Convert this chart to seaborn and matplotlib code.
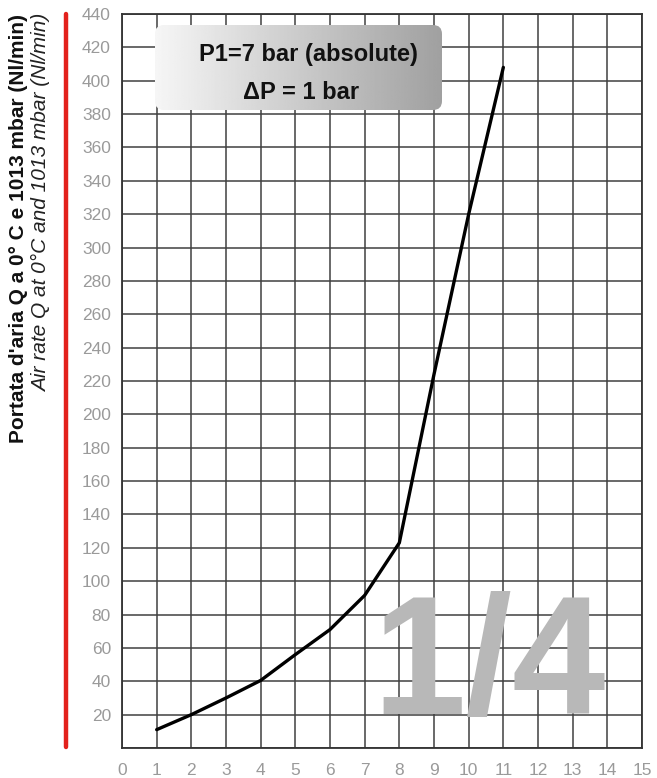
import numpy as np
import pandas as pd
import matplotlib
matplotlib.use('Agg')
import matplotlib.pyplot as plt
import seaborn as sb
from matplotlib.patches import FancyBboxPatch
from matplotlib.lines import Line2D

# curve
pressure_drop = [1, 2, 3, 4, 5, 6, 7, 8, 9, 10, 11]
air_rate = [11, 20, 30, 40.5, 56, 71, 91.5, 123, 224, 320, 408]

x_ticks = list(range(0, 16))
y_ticks = list(range(0, 441, 20))
y_ticklabels = [''] + [str(v) for v in y_ticks[1:]]

ylabel_it = "Portata d'aria Q a 0° C e 1013 mbar (Nl/min)"
ylabel_en = "Air rate Q at 0°C and 1013 mbar (Nl/min)"
box_line1 = "P1=7 bar (absolute)"
box_line2 = "ΔP = 1 bar"
size_text = "1/4"

df = pd.DataFrame({'dp': pressure_drop, 'q': air_rate})

sb.set_style('white')
plt.rcParams['font.family'] = ['Liberation Sans', 'DejaVu Sans']

fig = plt.figure(figsize=(6.57, 7.78), dpi=100)
ax = fig.add_axes([122/657, 30/778, 520/657, 734/778])

# grid
ax.set_axisbelow(True)
ax.grid(True, color='#404040', linewidth=1.1)

sb.lineplot(data=df, x='dp', y='q', color='black', linewidth=2.4, ax=ax, zorder=5)

ax.set_xlim(0, 15)
ax.set_ylim(0, 440)
ax.set_xticks(x_ticks)
ax.set_yticks(y_ticks)
ax.set_yticklabels(y_ticklabels)
ax.tick_params(axis='both', length=0, labelcolor='#9a9a9a', labelsize=12.5)
ax.tick_params(axis='x', pad=10.5)
ax.tick_params(axis='y', pad=8)
ax.set_xlabel('')
ax.set_ylabel('')
for s in ax.spines.values():
    s.set_visible(True)
    s.set_color('#333333')
    s.set_linewidth(1.3)

# big "1/4" mark
ax.text(10.58, 20.5, size_text, ha='center', va='baseline', fontsize=121,
        fontweight='bold', color='#b8b8b8', zorder=3)

# title box with gradient
box = FancyBboxPatch((1.55, 6.68), 2.87, 0.85, boxstyle='round,pad=0,rounding_size=0.09',
                     transform=fig.dpi_scale_trans, facecolor='none', edgecolor='none', zorder=6)
ax.add_patch(box)
grad = np.linspace(0.97, 0.62, 256)
img = ax.imshow(np.vstack([grad, grad]), cmap='gray', vmin=0, vmax=1, aspect='auto',
                extent=[0.8, 9.4, 375, 440], zorder=6, interpolation='bilinear')
img.set_clip_path(box)
ax.set_xlim(0, 15)
ax.set_ylim(0, 440)

ax.text(5.39, 416, box_line1, ha='center', va='center', fontsize=17,
        fontweight='bold', color='#111111', zorder=7)
ax.text(5.16, 393, box_line2, ha='center', va='center', fontsize=17,
        fontweight='bold', color='#111111', zorder=7)

# red bar on the left
fig.add_artist(Line2D([66/657, 66/657], [31/778, 764/778], color='#e3211c',
                      linewidth=3.2, transform=fig.transFigure))

# axis titles
fig.text(19/657, 764/778, ylabel_it, rotation=90, ha='center', va='top',
         fontsize=15, fontweight='bold', color='#111111')
fig.text(42/657, 764/778, ylabel_en, rotation=90, ha='center', va='top',
         fontsize=15, fontstyle='italic', color='#222222')

plt.savefig('out.png', dpi=100)
